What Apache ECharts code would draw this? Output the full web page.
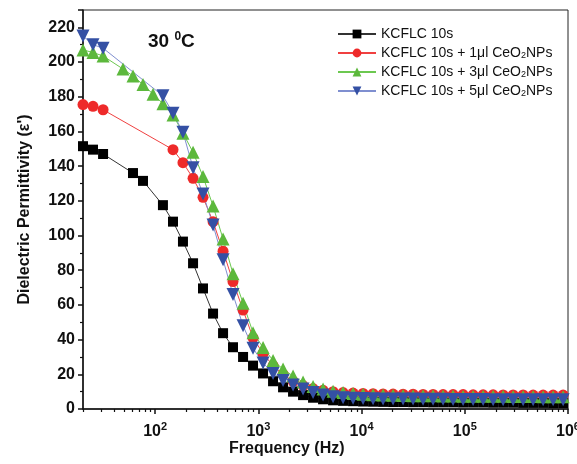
<!DOCTYPE html>
<html>
<head>
<meta charset="utf-8">
<script src="https://cdn.jsdelivr.net/npm/echarts@6/dist/echarts.min.js"></script>
<style>
    html, body { margin: 0; padding: 0; background: #fff; }
    #main { width: 577px; height: 464px; }
</style>
</head>
<body>
<div id="main"></div>
<script>
// frequency sweep (Hz), one point every 1.25x
var freq = [20, 25, 31.3, 39.1, 48.8, 61, 76.3, 95.4, 119, 149, 186, 233, 291, 364, 455, 568, 711, 888,
    1110, 1388, 1735, 2168, 2711, 3388, 4235, 5294, 6617, 8272, 10340, 12925, 16156, 20195, 25244,
    31554, 39443, 49304, 61630, 77037, 96297, 120371, 150463, 188079, 235099, 293874, 367342,
    459178, 573972, 717465, 896831];

var seriesNames = ['KCFLC 10s', 'KCFLC 10s + 1\u03bcl CeO2NPs', 'KCFLC 10s + 3\u03bcl CeO2NPs', 'KCFLC 10s + 5\u03bcl CeO2NPs'];

var eps10s = [151.5, 149.5, 147, null, null, 136, 131.5, null, 117.5, 108, 96.5, 84, 69.5, 55, 43.7, 35.6, 30, 25,
    20.5, 16, 12.5, 10, 8, 6.5, 5.6, 5, 4.7, 4.5, 4.3, 4.2, 4.1, 4, 4, 3.9, 3.9, 3.8, 3.8, 3.8, 3.7, 3.7,
    3.7, 3.6, 3.6, 3.6, 3.5, 3.5, 3.5, 3.4, 3.4];
var eps1ul = [175.5, 174.5, 172.5, null, null, null, null, null, null, 149.5, 142, 133, 122, 108, 91, 73.5, 57, 41,
    32, 25, 20, 16, 13.5, 11.8, 10.8, 10, 9.5, 9.2, 9, 8.8, 8.7, 8.6, 8.5, 8.5, 8.4, 8.4, 8.3, 8.3, 8.3, 8.2,
    8.2, 8.2, 8.1, 8.1, 8.1, 8, 8, 8, 8];
var eps3ul = [207, 205.5, 203.5, null, 196, 192, 187, 181.5, 176, 169.5, 159, 148, 134, 117, 98, 78, 61, 44,
    35.5, 28, 23, 19, 15.5, 13, 11.5, 10.3, 9.5, 9, 8.5, 8.2, 8, 7.9, 7.8, 7.7, 7.6, 7.6, 7.5, 7.5, 7.4, 7.4,
    7.3, 7.3, 7.3, 7.2, 7.2, 7.2, 7.1, 7.1, 7];
var eps5ul = [215, 210, 208, null, null, null, null, null, 180.5, 170.5, 159.5, 139, 124, 106, 86, 66, 48, 35,
    26.5, 20.5, 16.5, 13.8, 11.5, 9.5, 8, 7, 6.5, 6.2, 6, 5.9, 5.8, 5.8, 5.7, 5.7, 5.6, 5.6, 5.6, 5.5, 5.5, 5.5,
    5.5, 5.4, 5.4, 5.4, 5.4, 5.3, 5.3, 5.3, 5.3];

var majorTicks = [100, 1000, 10000, 100000, 1000000];
var minorTicks = [20, 30, 40, 50, 60, 70, 80, 90, 200, 300, 400, 500, 600, 700, 800, 900,
    2000, 3000, 4000, 5000, 6000, 7000, 8000, 9000, 20000, 30000, 40000, 50000, 60000, 70000, 80000, 90000,
    200000, 300000, 400000, 500000, 600000, 700000, 800000, 900000];

function pairs(values) {
    var out = [];
    for (var i = 0; i < freq.length; i++) {
        out.push([freq[i], values[i]]);
    }
    return out;
}

function makeSeries(name, values, symbol, size, color, lineColor, rotate) {
    return {
        name: name,
        type: 'line',
        data: pairs(values),
        connectNulls: true,
        symbol: symbol,
        symbolSize: size,
        symbolRotate: rotate || 0,
        itemStyle: { color: color },
        lineStyle: { color: lineColor, width: 1 }
    };
}

var chart = echarts.init(document.getElementById('main'));
var fontFam = 'Liberation Sans, Arial, sans-serif';

var option = {
    backgroundColor: '#fff',
    animation: false,
    grid: {
        left: 83, right: 9, top: 10, bottom: 55,
        outerBoundsMode: 'none',
        containLabel: false,
        show: true, borderColor: '#222', borderWidth: 1
    },
    legend: {
        orient: 'vertical',
        left: 337,
        top: 27,
        padding: 0,
        itemWidth: 38,
        itemHeight: 11,
        itemGap: 4,
        data: seriesNames,
        formatter: function (name) {
            return name.replace('CeO2', 'CeO{sub|2}');
        },
        textStyle: {
            fontFamily: fontFam, fontSize: 14, color: '#111', lineHeight: 14,
            rich: { sub: { fontFamily: fontFam, fontSize: 9, color: '#111', verticalAlign: 'bottom', lineHeight: 14, padding: [6, 0, 0, 0] } }
        }
    },
    xAxis: [{
        type: 'log',
        logBase: 10,
        min: 20,
        max: 1000000,
        splitLine: { show: false },
        axisLine: { onZero: false, lineStyle: { color: '#111', width: 1.5 } },
        axisTick: { customValues: majorTicks, length: 5, inside: false, lineStyle: { color: '#111', width: 1.5 } },
        axisLabel: {
            customValues: majorTicks,
            margin: 12,
            color: '#111',
            fontFamily: fontFam,
            fontSize: 16,
            fontWeight: 'bold',
            lineHeight: 22,
            hideOverlap: false,
            formatter: function (v) {
                return '10{sup|' + Math.round(Math.log(v) / Math.LN10) + '}';
            },
            rich: { sup: { fontFamily: fontFam, fontSize: 11, fontWeight: 'bold', color: '#111', verticalAlign: 'top', lineHeight: 22, padding: [0, 0, 8, 0] } }
        }
    }, {
        type: 'log',
        logBase: 10,
        min: 20,
        max: 1000000,
        position: 'bottom',
        gridIndex: 0,
        splitLine: { show: false },
        axisLine: { show: false },
        axisTick: { customValues: minorTicks, length: 3, lineStyle: { color: '#111', width: 1.2 } },
        axisLabel: { show: false }
    }],
    yAxis: {
        type: 'value',
        min: 0,
        max: 230,
        interval: 20,
        name: 'Dielectric Permittivity (\u03b5\')',
        nameLocation: 'middle',
        nameGap: 50,
        nameTextStyle: { fontFamily: fontFam, fontSize: 16, fontWeight: 'bold', color: '#111' },
        splitLine: { show: false },
        axisLine: { lineStyle: { color: '#111', width: 1.5 } },
        axisTick: { length: 5, lineStyle: { color: '#111', width: 1.5 } },
        minorTick: { show: true, splitNumber: 2, length: 3, lineStyle: { color: '#111', width: 1.2 } },
        axisLabel: {
            margin: 8,
            color: '#111',
            fontFamily: fontFam,
            fontSize: 16,
            fontWeight: 'bold',
            formatter: function (v) { return v > 220 ? '' : v; }
        }
    },
    graphic: [{
        type: 'text',
        left: 148,
        top: 31,
        style: {
            text: '30 {sup|0}C',
            font: 'bold 19px Liberation Sans, Arial, sans-serif',
            fill: '#111',
            rich: { sup: { font: 'bold 12px Liberation Sans, Arial, sans-serif', fill: '#111', verticalAlign: 'top', padding: [0, 0, 10, 0] } }
        }
    }, {
        type: 'text',
        left: 229,
        top: 441,
        style: {
            text: 'Frequency (Hz)',
            font: 'bold 16px Liberation Sans, Arial, sans-serif',
            fill: '#111'
        }
    }],
    series: [
        makeSeries(seriesNames[0], eps10s, 'rect', 10, '#000', '#333'),
        makeSeries(seriesNames[1], eps1ul, 'circle', 11, '#ee2a2a', '#f04040'),
        makeSeries(seriesNames[2], eps3ul, 'triangle', 13, '#5cb83c', '#6cc850'),
        makeSeries(seriesNames[3], eps5ul, 'triangle', 13, '#3450a4', '#7f8fd0', 180)
    ]
};

chart.setOption(option);
</script>
</body>
</html>
